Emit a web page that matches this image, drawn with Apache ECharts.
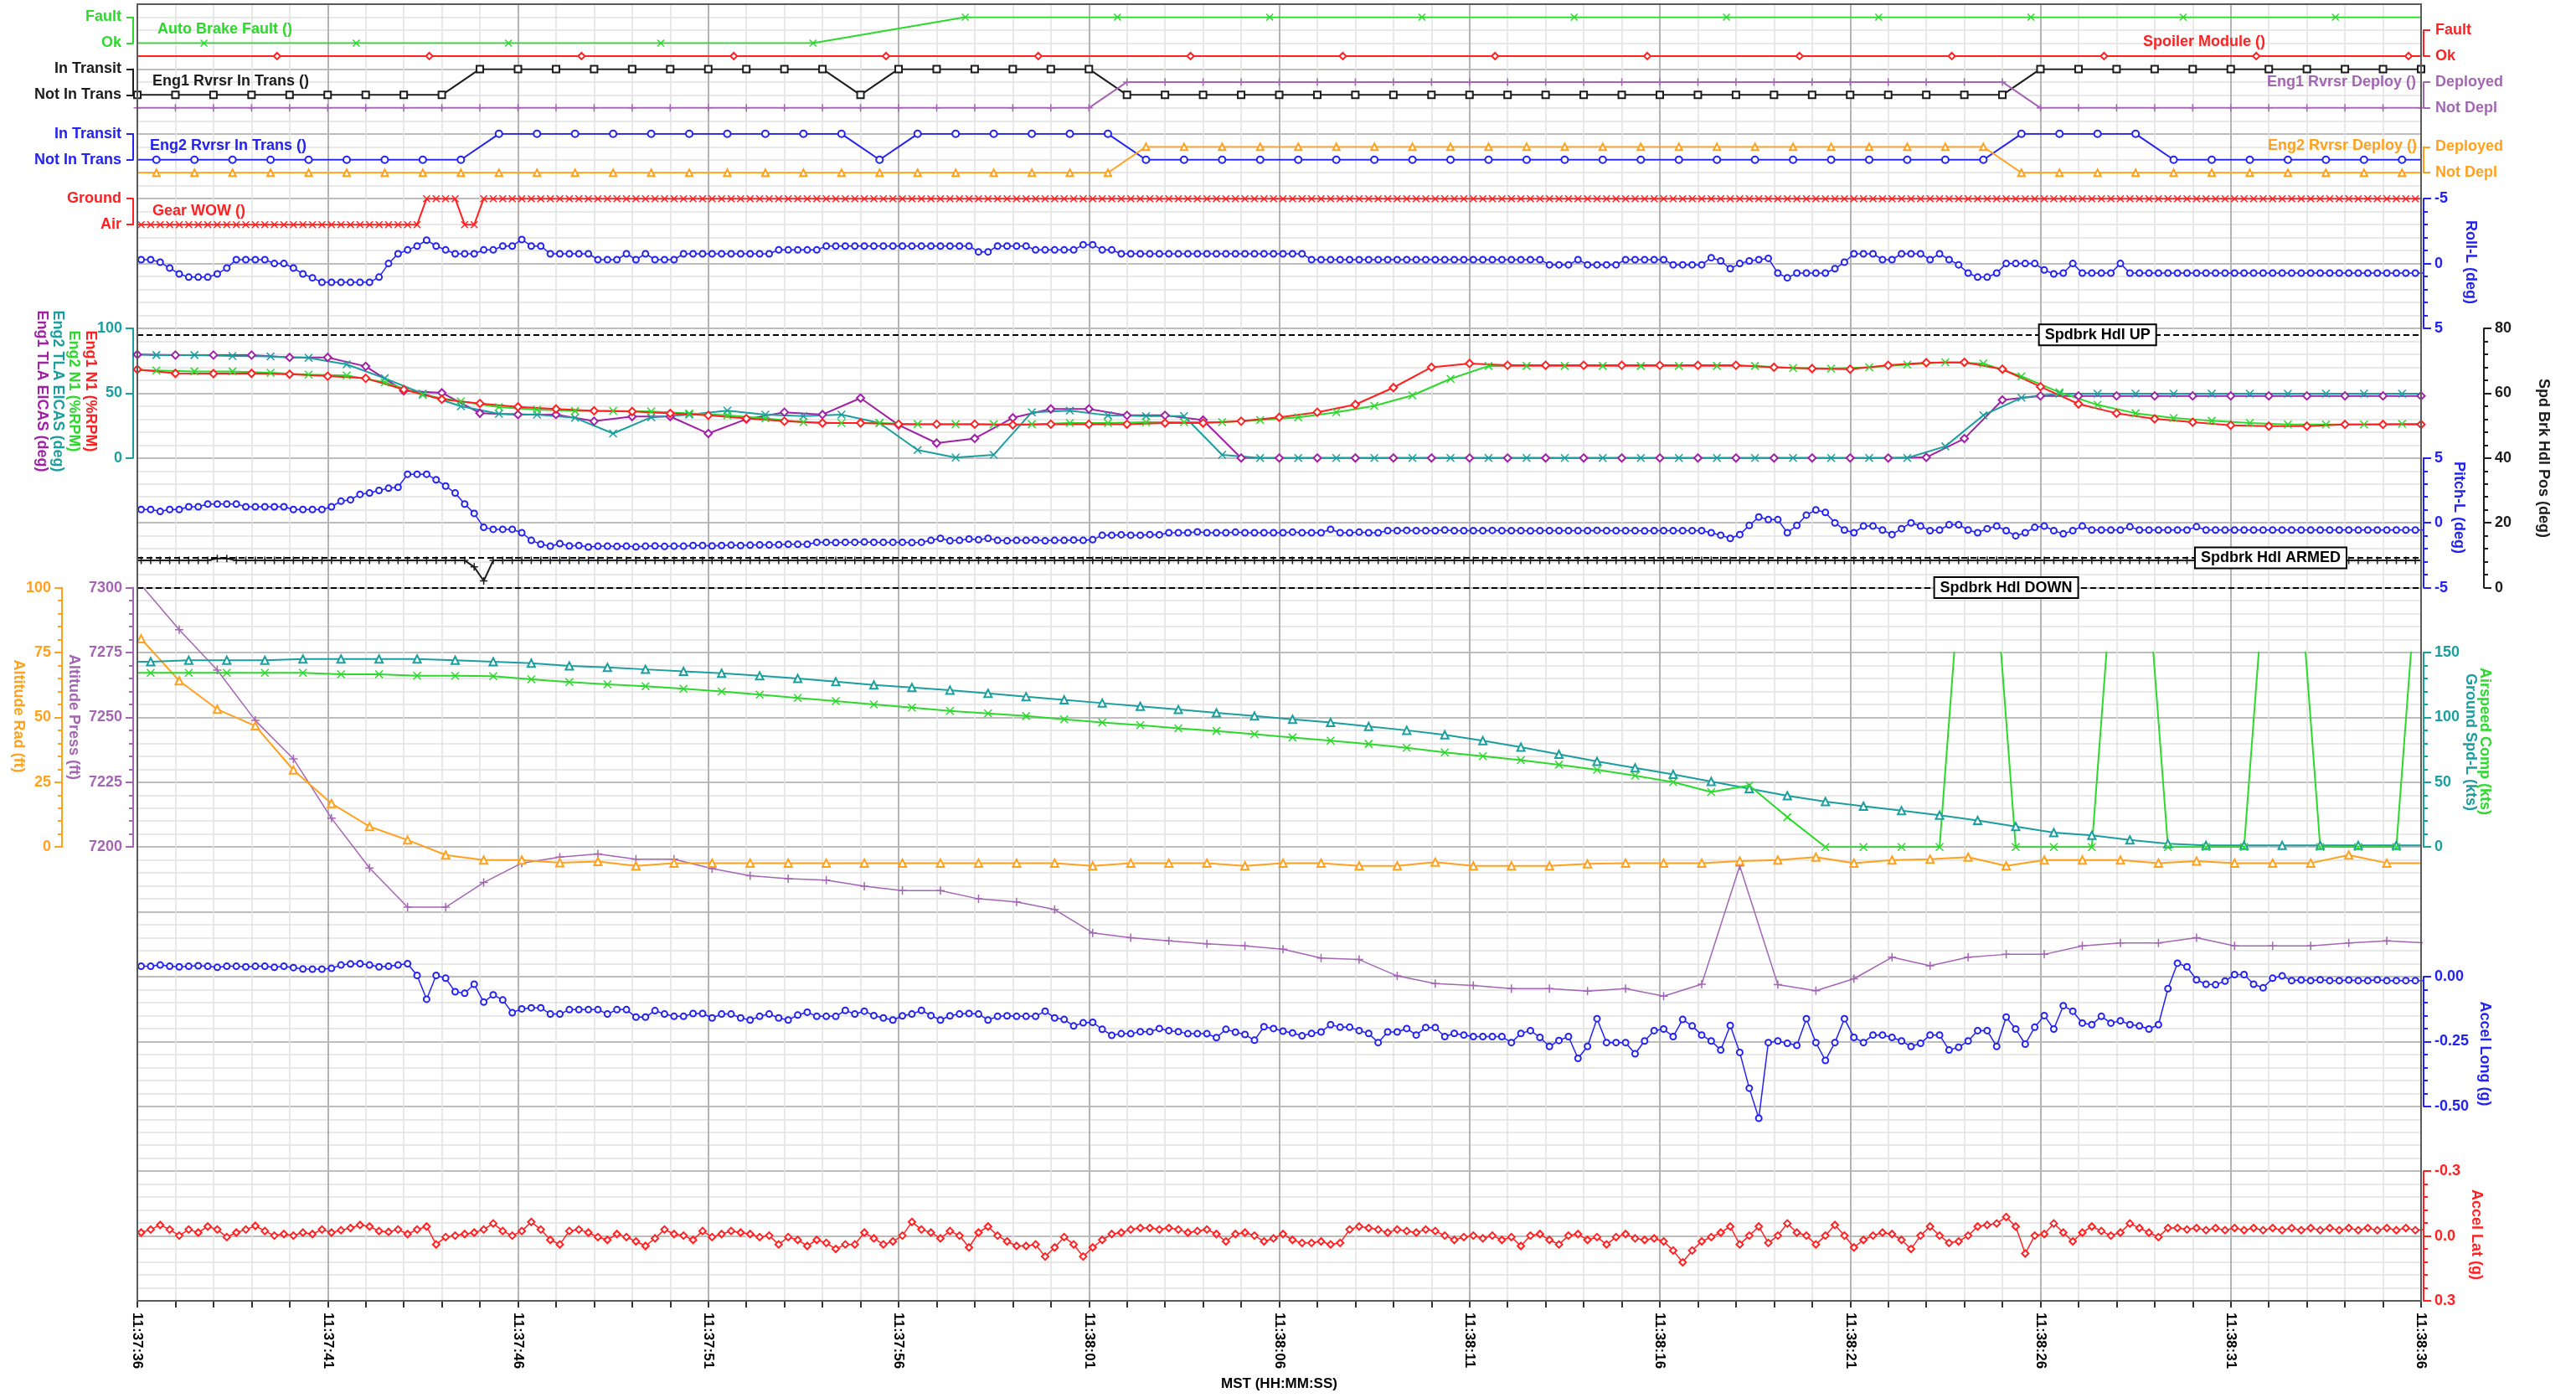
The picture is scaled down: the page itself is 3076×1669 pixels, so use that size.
<!DOCTYPE html>
<html>
<head>
<meta charset="utf-8">
<title>Flight data – landing roll</title>
<script src="https://cdn.jsdelivr.net/npm/echarts@6/dist/echarts.min.js"></script>
<style>
  html, body { margin: 0; padding: 0; background: #fff; }
  #chart { width: 3076px; height: 1669px; }
</style>
</head>
<body>
<div id="chart"></div>
<script>
// ---------------------------------------------------------------------------
// Time base: seconds after 11:37:36 MST. Tick labels every 5 s.
// ---------------------------------------------------------------------------
const TIME_LABELS = ['11:37:36', '11:37:41', '11:37:46', '11:37:51', '11:37:56', '11:38:01', '11:38:06',
  '11:38:11', '11:38:16', '11:38:21', '11:38:26', '11:38:31', '11:38:36'];

// ---------------------------------------------------------------------------
// Discrete parameters (0 / 1 states)
// ---------------------------------------------------------------------------
const AUTO_BRAKE_STATES = ['Ok', 'Fault'];
const SPOILER_STATES = ['Ok', 'Fault'];
const TRANSIT_STATES = ['Not In Trans', 'In Transit'];
const DEPLOY_STATES = ['Not Depl', 'Deployed'];
const WOW_STATES = ['Air', 'Ground'];

// sampled every 4 s, first sample at t = -2.25 s
const AUTO_BRAKE_FAULT = [0, 0, 0, 0, 0, 0, 1, 1, 1, 1, 1, 1, 1, 1, 1, 1, 1];
// sampled every 4 s, first sample at t = -0.33 s
const SPOILER_MODULE = [0, 0, 0, 0, 0, 0, 0, 0, 0, 0, 0, 0, 0, 0, 0, 0, 0];
// 1 Hz, t = 0 .. 60 s
const ENG1_RVRSR_IN_TRANS = [
  0, 0, 0, 0, 0, 0, 0, 0, 0, 1,
  1, 1, 1, 1, 1, 1, 1, 1, 1, 0,
  1, 1, 1, 1, 1, 1, 0, 0, 0, 0,
  0, 0, 0, 0, 0, 0, 0, 0, 0, 0,
  0, 0, 0, 0, 0, 0, 0, 0, 0, 0,
  1, 1, 1, 1, 1, 1, 1, 1, 1, 1,
  1];
const ENG1_RVRSR_DEPLOY = [
  0, 0, 0, 0, 0, 0, 0, 0, 0, 0,
  0, 0, 0, 0, 0, 0, 0, 0, 0, 0,
  0, 0, 0, 0, 0, 0, 1, 1, 1, 1,
  1, 1, 1, 1, 1, 1, 1, 1, 1, 1,
  1, 1, 1, 1, 1, 1, 1, 1, 1, 1,
  0, 0, 0, 0, 0, 0, 0, 0, 0, 0,
  0];
// 1 Hz, t = -0.5 .. 60.5 s
const ENG2_RVRSR_IN_TRANS = [
  0, 0, 0, 0, 0, 0, 0, 0, 0, 0,
  1, 1, 1, 1, 1, 1, 1, 1, 1, 1,
  0, 1, 1, 1, 1, 1, 1, 0, 0, 0,
  0, 0, 0, 0, 0, 0, 0, 0, 0, 0,
  0, 0, 0, 0, 0, 0, 0, 0, 0, 0,
  1, 1, 1, 1, 0, 0, 0, 0, 0, 0,
  0, 0];
const ENG2_RVRSR_DEPLOY = [
  0, 0, 0, 0, 0, 0, 0, 0, 0, 0,
  0, 0, 0, 0, 0, 0, 0, 0, 0, 0,
  0, 0, 0, 0, 0, 0, 0, 1, 1, 1,
  1, 1, 1, 1, 1, 1, 1, 1, 1, 1,
  1, 1, 1, 1, 1, 1, 1, 1, 1, 1,
  0, 0, 0, 0, 0, 0, 0, 0, 0, 0,
  0, 0];
// 4 Hz, t = -0.15 .. 60.1 s (first value is the sample before the window)
const GEAR_WOW = [0,
  0, 0, 0, 0, 0, 0, 0, 0, 0, 0,
  0, 0, 0, 0, 0, 0, 0, 0, 0, 0,
  0, 0, 0, 0, 0, 0, 0, 0, 0, 0,
  1, 1, 1, 1, 0, 0, 1, 1, 1, 1,
  1, 1, 1, 1, 1, 1, 1, 1, 1, 1,
  1, 1, 1, 1, 1, 1, 1, 1, 1, 1,
  1, 1, 1, 1, 1, 1, 1, 1, 1, 1,
  1, 1, 1, 1, 1, 1, 1, 1, 1, 1,
  1, 1, 1, 1, 1, 1, 1, 1, 1, 1,
  1, 1, 1, 1, 1, 1, 1, 1, 1, 1,
  1, 1, 1, 1, 1, 1, 1, 1, 1, 1,
  1, 1, 1, 1, 1, 1, 1, 1, 1, 1,
  1, 1, 1, 1, 1, 1, 1, 1, 1, 1,
  1, 1, 1, 1, 1, 1, 1, 1, 1, 1,
  1, 1, 1, 1, 1, 1, 1, 1, 1, 1,
  1, 1, 1, 1, 1, 1, 1, 1, 1, 1,
  1, 1, 1, 1, 1, 1, 1, 1, 1, 1,
  1, 1, 1, 1, 1, 1, 1, 1, 1, 1,
  1, 1, 1, 1, 1, 1, 1, 1, 1, 1,
  1, 1, 1, 1, 1, 1, 1, 1, 1, 1,
  1, 1, 1, 1, 1, 1, 1, 1, 1, 1,
  1, 1, 1, 1, 1, 1, 1, 1, 1, 1,
  1, 1, 1, 1, 1, 1, 1, 1, 1, 1,
  1, 1, 1, 1, 1, 1, 1, 1, 1, 1,
  1];

// ---------------------------------------------------------------------------
// Attitude, 4 Hz, t = -0.15 .. 60.1 s (deg)
// ---------------------------------------------------------------------------
const ROLL_L = [-0.3,
  -0.3, -0.3, -0.1, 0.35, 0.8, 1.05, 1.05, 1.05, 0.8, 0.35,
  -0.3, -0.3, -0.3, -0.3, 0, 0, 0.35, 0.8, 1.1, 1.45,
  1.45, 1.45, 1.45, 1.45, 1.45, 1.05, 0, -0.75, -1.05, -1.35,
  -1.8, -1.35, -1.05, -0.75, -0.75, -0.75, -1.05, -1.05, -1.35, -1.35,
  -1.85, -1.35, -1.35, -0.75, -0.75, -0.75, -0.75, -0.75, -0.3, -0.3,
  -0.3, -0.75, -0.3, -0.75, -0.3, -0.3, -0.3, -0.75, -0.75, -0.75,
  -0.75, -0.75, -0.75, -0.75, -0.75, -0.75, -0.75, -1.05, -1.05, -1.05,
  -1.05, -1.05, -1.35, -1.35, -1.35, -1.35, -1.35, -1.35, -1.35, -1.35,
  -1.35, -1.35, -1.35, -1.35, -1.35, -1.35, -1.35, -1.35, -0.9, -0.9,
  -1.35, -1.35, -1.35, -1.35, -1.05, -1.05, -1.05, -1.05, -1.05, -1.45,
  -1.45, -1.05, -1.05, -0.75, -0.75, -0.75, -0.75, -0.75, -0.75, -0.75,
  -0.75, -0.75, -0.75, -0.75, -0.75, -0.75, -0.75, -0.75, -0.75, -0.75,
  -0.75, -0.75, -0.75, -0.3, -0.3, -0.3, -0.3, -0.3, -0.3, -0.3,
  -0.3, -0.3, -0.3, -0.3, -0.3, -0.3, -0.3, -0.3, -0.3, -0.3,
  -0.3, -0.3, -0.3, -0.3, -0.3, -0.3, -0.3, -0.3, 0.1, 0.1,
  0.1, -0.3, 0.1, 0.1, 0.1, 0.1, -0.3, -0.3, -0.3, -0.3,
  -0.3, 0.1, 0.1, 0.1, 0.1, -0.45, -0.2, 0.4, 0, -0.2,
  -0.3, -0.4, 0.74, 1.1, 0.74, 0.74, 0.74, 0.74, 0.4, -0.1,
  -0.75, -0.75, -0.75, -0.3, -0.3, -0.75, -0.75, -0.75, -0.3, -0.75,
  -0.3, 0.1, 0.74, 1.05, 1.05, 0.74, 0, 0, 0, 0,
  0.5, 0.8, 0.74, 0, 0.74, 0.74, 0.74, 0.74, 0, 0.74,
  0.74, 0.74, 0.74, 0.74, 0.74, 0.74, 0.74, 0.74, 0.74, 0.74,
  0.74, 0.74, 0.74, 0.74, 0.74, 0.74, 0.74, 0.74, 0.74, 0.74,
  0.74, 0.74, 0.74, 0.74, 0.74, 0.74, 0.74, 0.74, 0.74, 0.74,
  0.74];

const PITCH_L = [1.03,
  1.03, 1.03, 0.88, 1.03, 1.03, 1.24, 1.24, 1.45, 1.45, 1.45,
  1.45, 1.24, 1.24, 1.24, 1.24, 1.24, 1.03, 1.03, 1.03, 1.03,
  1.24, 1.67, 1.78, 2.2, 2.3, 2.5, 2.67, 2.74, 3.75, 3.75,
  3.75, 3.32, 2.84, 2.3, 1.45, 0.73, -0.35, -0.5, -0.5, -0.5,
  -0.76, -1.35, -1.65, -1.8, -1.6, -1.78, -1.75, -1.86, -1.8, -1.8,
  -1.82, -1.8, -1.85, -1.8, -1.78, -1.82, -1.8, -1.8, -1.75, -1.75,
  -1.78, -1.75, -1.72, -1.75, -1.72, -1.7, -1.7, -1.68, -1.65, -1.65,
  -1.65, -1.5, -1.5, -1.52, -1.5, -1.5, -1.48, -1.5, -1.5, -1.5,
  -1.5, -1.52, -1.5, -1.35, -1.2, -1.38, -1.35, -1.25, -1.3, -1.2,
  -1.35, -1.38, -1.35, -1.35, -1.32, -1.38, -1.35, -1.35, -1.32, -1.35,
  -1.3, -0.95, -0.95, -0.92, -0.95, -0.95, -0.9, -0.92, -0.76, -0.76,
  -0.76, -0.7, -0.76, -0.76, -0.76, -0.72, -0.76, -0.76, -0.76, -0.76,
  -0.76, -0.72, -0.76, -0.76, -0.76, -0.5, -0.76, -0.76, -0.72, -0.76,
  -0.76, -0.6, -0.6, -0.58, -0.6, -0.6, -0.6, -0.55, -0.6, -0.6,
  -0.6, -0.6, -0.58, -0.6, -0.6, -0.6, -0.62, -0.6, -0.6, -0.6,
  -0.6, -0.6, -0.6, -0.58, -0.6, -0.6, -0.6, -0.6, -0.62, -0.6,
  -0.6, -0.6, -0.6, -0.6, -0.6, -0.76, -0.95, -1.2, -0.9, -0.2,
  0.45, 0.25, 0.25, -0.76, -0.2, 0.6, 1.0, 0.8, 0, -0.55,
  -0.76, -0.25, -0.25, -0.55, -0.9, -0.45, 0, -0.25, -0.6, -0.55,
  -0.15, -0.15, -0.55, -0.76, -0.45, -0.25, -0.6, -1.0, -0.76, -0.35,
  -0.25, -0.6, -0.85, -0.6, -0.25, -0.55, -0.55, -0.55, -0.55, -0.3,
  -0.55, -0.55, -0.55, -0.55, -0.55, -0.55, -0.3, -0.55, -0.55, -0.55,
  -0.55, -0.55, -0.55, -0.55, -0.55, -0.55, -0.55, -0.55, -0.55, -0.55,
  -0.55, -0.55, -0.55, -0.55, -0.55, -0.55, -0.55, -0.55, -0.55, -0.55,
  -0.55];

// Speedbrake handle position, 4 Hz (deg)
const SPD_BRK_HDL_POS = [8.4,
  8.4, 8.4, 8.4, 8.4, 8.4, 8.4, 8.4, 8.4, 9.0, 9.0,
  8.4, 8.4, 8.4, 8.4, 8.4, 8.4, 8.4, 8.4, 8.4, 8.4,
  8.4, 8.4, 8.4, 8.4, 8.4, 8.4, 8.4, 8.4, 8.4, 8.4,
  8.4, 8.4, 8.4, 8.4, 8.4, 6.4, 2.1, 8.4, 8.4, 8.4,
  8.4, 8.4, 8.4, 8.4, 8.4, 8.4, 8.4, 8.4, 8.4, 8.4,
  8.4, 8.4, 8.4, 8.4, 8.4, 8.4, 8.4, 8.4, 8.4, 8.4,
  8.4, 8.4, 8.4, 8.4, 8.4, 8.4, 8.4, 8.4, 8.4, 8.4,
  8.4, 8.4, 8.4, 8.4, 8.4, 8.4, 8.4, 8.4, 8.4, 8.4,
  8.4, 8.4, 8.4, 8.4, 8.4, 8.4, 8.4, 8.4, 8.4, 8.4,
  8.4, 8.4, 8.4, 8.4, 8.4, 8.4, 8.4, 8.4, 8.4, 8.4,
  8.4, 8.4, 8.4, 8.4, 8.4, 8.4, 8.4, 8.4, 8.4, 8.4,
  8.4, 8.4, 8.4, 8.4, 8.4, 8.4, 8.4, 8.4, 8.4, 8.4,
  8.4, 8.4, 8.4, 8.4, 8.4, 8.4, 8.4, 8.4, 8.4, 8.4,
  8.4, 8.4, 8.4, 8.4, 8.4, 8.4, 8.4, 8.4, 8.4, 8.4,
  8.4, 8.4, 8.4, 8.4, 8.4, 8.4, 8.4, 8.4, 8.4, 8.4,
  8.4, 8.4, 8.4, 8.4, 8.4, 8.4, 8.4, 8.4, 8.4, 8.4,
  8.4, 8.4, 8.4, 8.4, 8.4, 8.4, 8.4, 8.4, 8.4, 8.4,
  8.4, 8.4, 8.4, 8.4, 8.4, 8.4, 8.4, 8.4, 8.4, 8.4,
  8.4, 8.4, 8.4, 8.4, 8.4, 8.4, 8.4, 8.4, 8.4, 8.4,
  8.4, 8.4, 8.4, 8.4, 8.4, 8.4, 8.4, 8.4, 8.4, 8.4,
  8.4, 8.4, 8.4, 8.4, 8.4, 8.4, 8.4, 8.4, 8.4, 8.4,
  8.4, 8.4, 8.4, 8.4, 8.4, 8.4, 8.4, 8.4, 8.4, 8.4,
  8.4, 8.4, 8.4, 8.4, 8.4, 8.4, 8.4, 8.4, 8.4, 8.4,
  8.4, 8.4, 8.4, 8.4, 8.4, 8.4, 8.4, 8.4, 8.4, 8.4,
  8.4];
const SPDBRK_DETENT_NAMES = ['Spdbrk Hdl UP', 'Spdbrk Hdl ARMED', 'Spdbrk Hdl DOWN'];
const SPDBRK_DETENT_VALUES = [78, 9.2, 0];

// ---------------------------------------------------------------------------
// Engines, 1 Hz. Eng1 at t = 0 .. 60 s, Eng2 at t = -0.5 .. 60.5 s
// ---------------------------------------------------------------------------
const ENG1_N1 = [
  68.3, 65.3, 65.1, 65.3, 64.6, 63.1, 61.5, 52.8, 45.3, 42.1,
  39.4, 37.8, 36.4, 35.9, 34.4, 32.9, 30.5, 28.4, 27, 27,
  26.1, 26.1, 26.1, 25.5, 26.1, 26.1, 26.1, 27, 27, 28.4,
  31.4, 35.3, 41.2, 54.3, 70, 72.9, 71.5, 71.5, 71.5, 71.5,
  71.5, 71.5, 71.5, 70, 69, 68.5, 71.5, 73.5, 73.8, 68.5,
  55, 41.7, 34.5, 30.2, 27.6, 25.3, 24.6, 24.6, 25.9, 25.9,
  25.9];
const ENG2_N1 = [
  68, 67.5, 66.8, 66.8, 65.8, 64.3, 63.7, 58.3, 48.6, 43.6,
  39.3, 37.3, 36.3, 36.4, 35.9, 34.4, 32.9, 30.5, 27.6, 27,
  27, 26.1, 26.1, 26.1, 26.1, 27, 27, 27.6, 27.6, 27.6,
  29.3, 31.4, 35.3, 40.3, 48.3, 61.1, 71, 71, 71, 71,
  71, 71, 71, 71, 69.5, 69, 70, 72, 73.8, 72.9,
  63, 50.7, 41, 34.5, 30.9, 28.7, 27, 25.9, 25.9, 25.9,
  26.4, 26.4];
const ENG1_TLA = [
  79.8, 79.4, 79.4, 79.4, 77.6, 77.6, 70.7, 51.8, 50.3, 34.6,
  33.5, 33.5, 28.4, 32, 32, 18.9, 30, 35.3, 33.5, 46.2,
  25.5, 11.5, 15.1, 31, 37.8, 37.8, 32.9, 32.9, 29.3, 0,
  0, 0, 0, 0, 0, 0, 0, 0, 0, 0,
  0, 0, 0, 0, 0, 0, 0, 0.5, 15, 44.8,
  47.9, 47.9, 47.9, 47.9, 47.9, 47.9, 47.9, 47.9, 47.9, 47.9,
  47.9];
const ENG2_TLA = [
  80.5, 79.4, 79.4, 78.7, 78.3, 77.2, 72.2, 61.5, 49.6, 39.9,
  34.1, 33.5, 31, 18.9, 31.4, 33.5, 36.5, 33.5, 32.3, 33.5,
  27, 6.2, 0.3, 2.5, 35.3, 36.5, 32.9, 32.3, 32.3, 2.5,
  0, 0, 0, 0, 0, 0, 0, 0, 0, 0,
  0, 0, 0, 0, 0, 0, 0, 0, 9, 33,
  46.5, 49.6, 49.6, 49.6, 49.6, 49.6, 49.6, 49.6, 49.6, 49.6,
  49.6, 49.6];

// ---------------------------------------------------------------------------
// Altitudes, 1 Hz, t = 0.1 .. 60.1 s (ft)
// ---------------------------------------------------------------------------
const ALTITUDE_RAD = [
  80.3, 64.1, 53.1, 46.7, 29.7, 16.8, 7.9, 2.7, -3.1, -5,
  -5, -6.1, -5.6, -7.3, -6.2, -6.2, -6.2, -6.2, -6.2, -6.2,
  -6.2, -6.2, -6.2, -6.2, -6.2, -7.3, -6.2, -6.2, -6.2, -7.3,
  -6.2, -6.2, -7.3, -7.3, -5.8, -7.3, -7.3, -7.3, -6.5, -6.2,
  -6.2, -6.2, -5.4, -5, -3.9, -6.2, -5, -4.7, -3.9, -7.3,
  -5, -5, -5, -6.2, -5.4, -6.2, -6.2, -6.2, -3.1, -6.2,
  -6.2];
const ALTITUDE_PRESS = [
  7301, 7283.8, 7268.2, 7248.8, 7234, 7211.1, 7191.9, 7176.8, 7176.8, 7186.3,
  7193.8, 7196.1, 7197.3, 7195.3, 7195.3, 7191.7, 7188.9, 7187.8, 7187.2, 7184.9,
  7183.2, 7183.2, 7180, 7178.8, 7175.9, 7166.9, 7165, 7163.8, 7162.7, 7161.9,
  7160.6, 7157.2, 7156.6, 7150.3, 7147.3, 7146.6, 7145.4, 7145.4, 7144.4, 7145.4,
  7142.5, 7147.1, 7192.7, 7146.9, 7144.6, 7149.2, 7157.5, 7154.2, 7157.5, 7158.6,
  7158.6, 7161.9, 7163, 7163, 7165, 7161.9, 7161.9, 7161.9, 7163, 7163.8,
  7163];

// ---------------------------------------------------------------------------
// Speeds, 1 Hz, t = -0.65 .. 60.35 s (kts)
// ---------------------------------------------------------------------------
const AIRSPEED_COMP = [
  134.3, 134.3, 134.3, 134.3, 134.3, 134.3, 133.2, 133.2, 132.1, 132.1,
  131.7, 129.3, 127.2, 125.5, 124, 122, 120, 117.5, 115, 112.5,
  110, 107.5, 105, 103, 101, 98.5, 96, 94, 91.5, 89.5,
  87, 84.5, 82, 79.5, 76.5, 73, 70, 67, 63.5, 59.5,
  55, 50, 42.5, 47.5, 23, 0, 0, 0, 0, 390,
  0, 0, 0, 390, 0, 0, 0, 390, 0, 0,
  0, 390];
const GROUND_SPD_L = [
  142.9, 142.9, 144, 144, 144, 145, 145, 145, 145, 144,
  142.9, 141.8, 139.7, 138.5, 137, 135.5, 134, 132, 130, 127.5,
  125, 123, 121, 118.5, 116, 113.5, 111, 108.5, 106, 103.5,
  101, 98.5, 96, 93, 90, 86.5, 82, 77, 71.5, 66,
  61, 56, 50.5, 45, 39.5, 35, 31.5, 28, 24.5, 20.5,
  15.8, 11.1, 9, 5.5, 2.5, 1.2, 1.2, 1.2, 1.2, 1.2,
  1.2, 1.2];

// ---------------------------------------------------------------------------
// Accelerations, 4 Hz, t = -0.15 .. 60.1 s (g)
// ---------------------------------------------------------------------------
const ACCEL_LONG = [0.04,
  0.04, 0.04, 0.045, 0.04, 0.038, 0.04, 0.042, 0.04, 0.036, 0.04,
  0.04, 0.038, 0.04, 0.04, 0.036, 0.04, 0.035, 0.03, 0.029, 0.029,
  0.032, 0.045, 0.049, 0.05, 0.045, 0.038, 0.04, 0.045, 0.05, 0.005,
  -0.087, 0.005, -0.006, -0.058, -0.064, -0.029, -0.098, -0.07, -0.09, -0.139,
  -0.124, -0.12, -0.12, -0.144, -0.144, -0.127, -0.127, -0.127, -0.127, -0.144,
  -0.127, -0.127, -0.156, -0.156, -0.131, -0.144, -0.153, -0.153, -0.142, -0.142,
  -0.159, -0.144, -0.144, -0.159, -0.167, -0.153, -0.144, -0.159, -0.167, -0.148,
  -0.137, -0.153, -0.153, -0.153, -0.13, -0.144, -0.133, -0.15, -0.159, -0.167,
  -0.151, -0.144, -0.13, -0.15, -0.167, -0.151, -0.144, -0.142, -0.144, -0.167,
  -0.153, -0.151, -0.153, -0.153, -0.153, -0.133, -0.159, -0.165, -0.19, -0.178,
  -0.176, -0.203, -0.226, -0.22, -0.22, -0.212, -0.212, -0.2, -0.208, -0.212,
  -0.22, -0.22, -0.22, -0.235, -0.203, -0.214, -0.223, -0.245, -0.193, -0.2,
  -0.21, -0.217, -0.228, -0.219, -0.213, -0.185, -0.195, -0.195, -0.208, -0.219,
  -0.254, -0.213, -0.213, -0.2, -0.225, -0.196, -0.196, -0.231, -0.219, -0.225,
  -0.231, -0.231, -0.231, -0.231, -0.254, -0.219, -0.208, -0.234, -0.269, -0.246,
  -0.231, -0.315, -0.269, -0.162, -0.254, -0.254, -0.254, -0.297, -0.248, -0.208,
  -0.202, -0.231, -0.165, -0.19, -0.225, -0.248, -0.283, -0.188, -0.292, -0.43,
  -0.546, -0.254, -0.248, -0.257, -0.265, -0.162, -0.254, -0.323, -0.254, -0.162,
  -0.234, -0.254, -0.225, -0.225, -0.234, -0.248, -0.269, -0.257, -0.225, -0.225,
  -0.283, -0.272, -0.248, -0.208, -0.208, -0.269, -0.156, -0.202, -0.26, -0.195,
  -0.15, -0.202, -0.112, -0.133, -0.179, -0.185, -0.153, -0.179, -0.17, -0.185,
  -0.19, -0.202, -0.185, -0.046, 0.052, 0.038, -0.012, -0.029, -0.031, -0.017,
  0.008, 0.008, -0.029, -0.043, -0.006, 0.003, -0.015, -0.013, -0.015, -0.012,
  -0.015, -0.015, -0.013, -0.015, -0.015, -0.012, -0.015, -0.015, -0.015, -0.015,
  -0.015];

const ACCEL_LAT = [-0.016,
  -0.016, -0.03, -0.051, -0.03, -0.002, -0.03, -0.016, -0.044, -0.03, 0.005,
  -0.016, -0.03, -0.047, -0.023, -0.002, -0.009, -0.002, -0.016, -0.009, -0.03,
  -0.016, -0.027, -0.037, -0.051, -0.044, -0.023, -0.019, -0.03, -0.009, -0.03,
  -0.044, 0.039, 0.005, -0.002, -0.009, -0.016, -0.03, -0.058, -0.023, -0.002,
  -0.023, -0.065, -0.03, 0.018, 0.039, -0.023, -0.03, -0.016, 0.005, 0.018,
  -0.009, 0.005, 0.025, 0.046, 0.011, -0.03, -0.009, -0.002, 0.018, -0.023,
  0.005, -0.009, -0.023, -0.016, -0.009, 0.005, -0.002, 0.039, 0.005, 0.018,
  0.046, 0.018, 0.032, 0.06, 0.039, 0.039, -0.016, 0.011, 0.039, 0.025,
  -0.002, -0.065, -0.03, -0.016, 0.011, -0.023, -0.002, 0.053, -0.016, -0.044,
  -0.002, 0.025, 0.046, 0.046, 0.039, 0.095, 0.053, 0.005, 0.039, 0.095,
  0.053, 0.018, -0.009, -0.016, -0.03, -0.037, -0.037, -0.03, -0.037, -0.03,
  -0.016, -0.023, -0.03, -0.009, 0.025, -0.009, -0.016, -0.002, 0.025, 0.011,
  -0.009, 0.018, 0.032, 0.032, 0.025, 0.039, 0.032, -0.03, -0.044, -0.037,
  -0.03, -0.016, -0.03, -0.023, -0.016, -0.03, -0.023, -0.002, 0.018, 0.005,
  -0.002, 0.011, -0.002, 0.018, 0.005, 0.046, -0.002, -0.009, 0.018, 0.039,
  -0.002, -0.009, 0.018, 0.005, 0.039, 0.005, -0.009, 0.011, 0.018, 0.011,
  0.025, 0.067, 0.122, 0.067, 0.025, 0.005, -0.016, -0.044, 0.039, -0.002,
  -0.044, 0.032, -0.002, -0.058, -0.016, -0.002, 0.039, -0.002, -0.051, -0.002,
  0.053, 0.018, -0.002, -0.016, -0.009, 0.018, 0.06, -0.002, -0.044, -0.002,
  0.032, 0.025, -0.002, -0.044, -0.051, -0.058, -0.088, -0.044, 0.081, -0.002,
  -0.009, -0.058, -0.016, 0.025, -0.016, -0.044, -0.023, -0.002, -0.016, -0.058,
  -0.037, -0.016, 0.005, -0.037, -0.037, -0.03, -0.037, -0.027, -0.037, -0.027,
  -0.037, -0.027, -0.037, -0.027, -0.037, -0.027, -0.037, -0.027, -0.037, -0.027,
  -0.037, -0.027, -0.037, -0.027, -0.037, -0.027, -0.037, -0.027, -0.037, -0.027,
  -0.03];

// ---------------------------------------------------------------------------
// Layout and styling
// ---------------------------------------------------------------------------
const FONT = '"Liberation Sans", Arial, Helvetica, sans-serif';
const COL = {
  green: '#2cd92c', red: '#ff2121', black: '#1c1c1c', lilac: '#a466b4',
  blue: '#2222f2', orange: '#ffa11c', teal: '#1a9e9e', magenta: '#a020a6'
};
const PLOT_LEFT = 164, PLOT_RIGHT_EDGE = 2891, PLOT_TOP = 5, PLOT_BOTTOM = 1553;
const CHART_W = 3076;
const UNIT = (PLOT_BOTTOM - PLOT_TOP) / 100;   // one minor row of the background grid

function band(a, b) {
  return { left: PLOT_LEFT, right: CHART_W - PLOT_RIGHT_EDGE, top: PLOT_TOP + a * UNIT, height: (b - a) * UNIT };
}
function samples(start, step, values) {
  return values.map((v, i) => [start + i * step, v]);
}

const SYM_X = 'path://M0,0L10,10M10,0L0,10';
const SYM_PLUS = 'path://M0,5L10,5M5,0L5,10';
const labelFont = { fontSize: 18, fontWeight: 'bold', fontFamily: FONT };

// panels: [top, bottom] in minor rows of the background grid
const grids = [
  band(0, 100),   // 0 background
  band(1, 3),     // 1 auto brake
  band(2, 4),     // 2 spoiler
  band(5, 7),     // 3 eng1 in trans
  band(6, 8),     // 4 eng1 deploy
  band(10, 12),   // 5 eng2 in trans
  band(11, 13),   // 6 eng2 deploy
  band(15, 17),   // 7 gear wow
  band(15, 25),   // 8 roll
  band(25, 35),   // 9 N1 / TLA
  band(35, 45),   // 10 pitch
  band(25, 45),   // 11 speedbrake handle
  band(45, 65),   // 12 altitude scales
  band(45, 85),   // 13 altitude traces
  band(50, 65),   // 14 speeds
  band(75, 85),   // 15 accel long scale
  band(70, 90),   // 16 accel long trace
  band(90, 100)   // 17 accel lat
];

const xAxes = grids.map((g, i) => i === 0 ? {
  gridIndex: 0, type: 'value', min: 0, max: 60, interval: 5, position: 'bottom',
  axisLine: { show: true, onZero: false, lineStyle: { color: '#333', width: 2 } },
  axisTick: { show: true, length: 8, lineStyle: { color: '#333', width: 2 } },
  minorTick: { show: true, splitNumber: 5, length: 8, lineStyle: { color: '#333', width: 2 } },
  axisLabel: { rotate: -90, margin: 14, color: '#000', fontSize: 17, fontWeight: 'bold', fontFamily: FONT,
    formatter: v => TIME_LABELS[Math.round(v / 5)] },
  splitLine: { show: true, lineStyle: { color: '#b4b4b4', width: 2 } },
  minorSplitLine: { show: true, lineStyle: { color: '#e2e2e2', width: 1.5 } }
} : { gridIndex: i, type: 'value', min: 0, max: 60, show: false });

function stateAxis(grid, side, color, states) {
  return {
    gridIndex: grid, type: 'value', min: 0, max: 1, interval: 1, position: side, offset: side === 'left' ? 5 : 3,
    axisLine: { show: true, onZero: false, lineStyle: { color, width: 2 } },
    axisTick: { show: true, length: 8, lineStyle: { color, width: 2 } },
    axisLabel: Object.assign({ color, margin: 14, formatter: v => states[Math.round(v)] }, labelFont),
    splitLine: { show: false }
  };
}
function scaleAxis(grid, side, offset, color, min, max, interval, fmt, opt) {
  opt = opt || {};
  return {
    gridIndex: grid, type: 'value', position: side, offset, min, max, interval, inverse: !!opt.inverse,
    axisLine: { show: true, onZero: false, lineStyle: { color, width: 2 } },
    axisTick: { show: true, length: 9, lineStyle: { color, width: 2 } },
    minorTick: { show: opt.minor !== false, splitNumber: 5, length: 5, lineStyle: { color, width: 2 } },
    axisLabel: Object.assign({ color, margin: 13, formatter: fmt }, labelFont),
    splitLine: { show: false }, minorSplitLine: { show: false }
  };
}
function hiddenAxis(grid, min, max) {
  return { gridIndex: grid, type: 'value', min, max, show: false, splitLine: { show: false } };
}
const intFmt = v => String(Math.round(v));

const yAxes = [
  { gridIndex: 0, type: 'value', min: 0, max: 100, interval: 5, inverse: true,
    axisLine: { show: false, onZero: false }, axisTick: { show: false }, axisLabel: { show: false },
    minorTick: { show: false, splitNumber: 5 },
    splitLine: { show: true, lineStyle: { color: '#bdbdbd', width: 2 } },
    minorSplitLine: { show: true, lineStyle: { color: '#e8e8e8', width: 2 } } },        // 0
  stateAxis(1, 'left', COL.green, AUTO_BRAKE_STATES),                                   // 1
  stateAxis(2, 'right', COL.red, SPOILER_STATES),                                       // 2
  stateAxis(3, 'left', COL.black, TRANSIT_STATES),                                      // 3
  stateAxis(4, 'right', COL.lilac, DEPLOY_STATES),                                      // 4
  stateAxis(5, 'left', COL.blue, TRANSIT_STATES),                                       // 5
  stateAxis(6, 'right', COL.orange, DEPLOY_STATES),                                     // 6
  stateAxis(7, 'left', COL.red, WOW_STATES),                                            // 7
  scaleAxis(8, 'right', 3, COL.blue, -5, 5, 5, intFmt, { inverse: true }),              // 8 roll
  scaleAxis(9, 'left', 5, COL.teal, 0, 100, 50, intFmt, { minor: false }),              // 9 N1
  scaleAxis(10, 'right', 3, COL.blue, -5, 5, 5, intFmt),                                // 10 pitch
  scaleAxis(11, 'right', 75, COL.black, 0, 80, 20, intFmt),                             // 11 spd brk
  scaleAxis(12, 'left', 90, COL.orange, 0, 100, 25, intFmt),                            // 12 alt rad scale
  scaleAxis(12, 'left', 5, COL.lilac, 7200, 7300, 25, intFmt),                          // 13 alt press scale
  hiddenAxis(13, -100, 100),                                                            // 14 alt rad trace
  hiddenAxis(13, 7100, 7300),                                                           // 15 alt press trace
  scaleAxis(14, 'right', 3, COL.teal, 0, 150, 50, intFmt),                              // 16 speeds
  scaleAxis(15, 'right', 3, COL.blue, -0.5, 0, 0.25, v => v.toFixed(2)),                // 17 accel long scale
  hiddenAxis(16, -0.75, 0.25),                                                          // 18 accel long trace
  scaleAxis(17, 'right', 3, COL.red, -0.3, 0.3, 0.3,
    v => (Math.abs(v) < 1e-9 ? 0 : v).toFixed(1), { inverse: true })                    // 19 accel lat
];

function trace(name, grid, yIndex, data, color, symbol, size, width) {
  return {
    name, type: 'line', xAxisIndex: grid, yAxisIndex: yIndex, data,
    symbol, symbolSize: size, showSymbol: true, showAllSymbol: true,
    lineStyle: { color, width: width || 2 },
    itemStyle: { color, borderColor: color, borderWidth: 1.5 },
    emphasis: { disabled: true }, silent: true, z: 3
  };
}

const spdBrk = trace('Spd Brk Hdl Pos', 11, 11, samples(-0.15, 0.25, SPD_BRK_HDL_POS), COL.black, SYM_PLUS, 9, 2);
spdBrk.markLine = {
  silent: true, symbol: 'none', label: { show: false },
  lineStyle: { color: '#000', width: 2, type: [7, 4] },
  data: SPDBRK_DETENT_VALUES.map(v => ({ yAxis: v }))
};
// label boxes for the detents, anchored at a time on each detent line
const detentLabelTimes = [51.5, 56.05, 49.1];
spdBrk.markPoint = {
  silent: true, symbol: 'rect', symbolSize: 1, itemStyle: { color: 'rgba(0,0,0,0)' },
  label: Object.assign({
    show: true, position: 'inside', color: '#000', backgroundColor: '#fff',
    borderColor: '#000', borderWidth: 2, padding: [3, 6, 2, 6], formatter: p => p.name
  }, labelFont),
  data: SPDBRK_DETENT_NAMES.map((n, i) => ({ name: n, coord: [detentLabelTimes[i], SPDBRK_DETENT_VALUES[i]] }))
};

const series = [
  trace('Auto Brake Fault', 1, 1, samples(-2.25, 4, AUTO_BRAKE_FAULT), COL.green, SYM_X, 8),
  trace('Spoiler Module', 2, 2, samples(-0.33, 4, SPOILER_MODULE), COL.red, 'emptyDiamond', 8),
  trace('Eng1 Rvrsr In Trans', 3, 3, samples(0, 1, ENG1_RVRSR_IN_TRANS), COL.black, 'emptyRect', 8),
  trace('Eng1 Rvrsr Deploy', 4, 4, samples(0, 1, ENG1_RVRSR_DEPLOY), COL.lilac, SYM_PLUS, 9),
  trace('Eng2 Rvrsr In Trans', 5, 5, samples(-0.5, 1, ENG2_RVRSR_IN_TRANS), COL.blue, 'emptyCircle', 8),
  trace('Eng2 Rvrsr Deploy', 6, 6, samples(-0.5, 1, ENG2_RVRSR_DEPLOY), COL.orange, 'emptyTriangle', 8),
  trace('Gear WOW', 7, 7, samples(-0.15, 0.25, GEAR_WOW), COL.red, SYM_X, 8),
  trace('Roll-L', 8, 8, samples(-0.15, 0.25, ROLL_L), COL.blue, 'emptyCircle', 7, 1.5),
  trace('Eng1 TLA EICAS', 9, 9, samples(0, 1, ENG1_TLA), COL.magenta, 'emptyDiamond', 9),
  trace('Eng2 TLA EICAS', 9, 9, samples(-0.5, 1, ENG2_TLA), COL.teal, SYM_X, 9),
  trace('Eng2 N1', 9, 9, samples(-0.5, 1, ENG2_N1), COL.green, SYM_X, 9),
  trace('Eng1 N1', 9, 9, samples(0, 1, ENG1_N1), COL.red, 'emptyDiamond', 9),
  trace('Pitch-L', 10, 10, samples(-0.15, 0.25, PITCH_L), COL.blue, 'emptyCircle', 7, 1.5),
  spdBrk,
  trace('Altitude Press', 13, 15, samples(0.1, 1, ALTITUDE_PRESS), COL.lilac, SYM_PLUS, 10, 1.5),
  trace('Altitude Rad', 13, 14, samples(0.1, 1, ALTITUDE_RAD), COL.orange, 'emptyTriangle', 9),
  trace('Ground Spd-L', 14, 16, samples(-0.65, 1, GROUND_SPD_L), COL.teal, 'emptyTriangle', 9),
  trace('Airspeed Comp', 14, 16, samples(-0.65, 1, AIRSPEED_COMP), COL.green, SYM_X, 9),
  trace('Accel Long', 16, 18, samples(-0.15, 0.25, ACCEL_LONG), COL.blue, 'emptyCircle', 7, 1.5),
  trace('Accel Lat', 17, 19, samples(-0.15, 0.25, ACCEL_LAT), COL.red, 'emptyDiamond', 8, 1.5)
];

// in-plot parameter names
function tag(text, x, y, fill, align) {
  return { type: 'text', x, y, silent: true, z: 20,
    style: { text, fill, font: `bold 18px ${FONT}`, align: align || 'left', verticalAlign: 'middle',
      textAlign: align || 'left', textVerticalAlign: 'middle' } };
}
// rotated axis titles, reading top to bottom
function title(text, x, y, fill, size) {
  return { type: 'text', x, y, rotation: -Math.PI / 2, silent: true, z: 20,
    style: { text, fill, font: `bold ${size || 18}px ${FONT}`, align: 'center', verticalAlign: 'middle',
      textAlign: 'center', textVerticalAlign: 'middle' } };
}

const graphic = [
  { type: 'rect', silent: true, z: 15,
    shape: { x: PLOT_LEFT, y: PLOT_TOP, width: PLOT_RIGHT_EDGE - PLOT_LEFT, height: PLOT_BOTTOM - PLOT_TOP },
    style: { fill: 'none', stroke: '#5a5a5a', lineWidth: 2 } },
  tag('Auto Brake Fault ()', 188, 35, COL.green),
  tag('Eng1 Rvrsr In Trans ()', 182, 97, COL.black),
  tag('Eng2 Rvrsr In Trans ()', 179, 174, COL.blue),
  tag('Gear WOW ()', 182, 252, COL.red),
  tag('Spoiler Module ()', 2559, 50, COL.red),
  tag('Eng1 Rvrsr Deploy ()', 2885, 98, COL.lilac, 'right'),
  tag('Eng2 Rvrsr Deploy ()', 2886, 174, COL.orange, 'right'),
  title('Roll-L (deg)', 2950, 313, COL.blue),
  title('Pitch-L (deg)', 2936, 606, COL.blue),
  title('Spd Brk Hdl Pos (deg)', 3037, 547, COL.black),
  title('Eng1 N1 (%RPM)', 108, 467, COL.red),
  title('Eng2 N1 (%RPM)', 88, 467, COL.green),
  title('Eng2 TLA EICAS (deg)', 69, 467, COL.teal),
  title('Eng1 TLA EICAS (deg)', 50, 467, COL.magenta),
  title('Altitude Rad (ft)', 22, 855, COL.orange),
  title('Altitude Press (ft)', 88, 856, COL.lilac),
  title('Airspeed Comp (kts)', 2967, 885, COL.green),
  title('Ground Spd-L (kts)', 2950, 886, COL.teal),
  title('Accel Long (g)', 2967, 1258, COL.blue),
  title('Accel Lat (g)', 2957, 1474, COL.red),
  { type: 'text', x: (PLOT_LEFT + PLOT_RIGHT_EDGE) / 2, y: 1652, silent: true, z: 20,
    style: { text: 'MST (HH:MM:SS)', fill: '#000', font: `bold 17px ${FONT}`, align: 'center', verticalAlign: 'middle',
      textAlign: 'center', textVerticalAlign: 'middle' } }
];

const chart = echarts.init(document.getElementById('chart'), null, { renderer: 'canvas' });
chart.setOption({
  animation: false,
  backgroundColor: '#fff',
  textStyle: { fontFamily: FONT },
  tooltip: { show: false },
  grid: grids,
  xAxis: xAxes,
  yAxis: yAxes,
  series,
  graphic
});
</script>
</body>
</html>
